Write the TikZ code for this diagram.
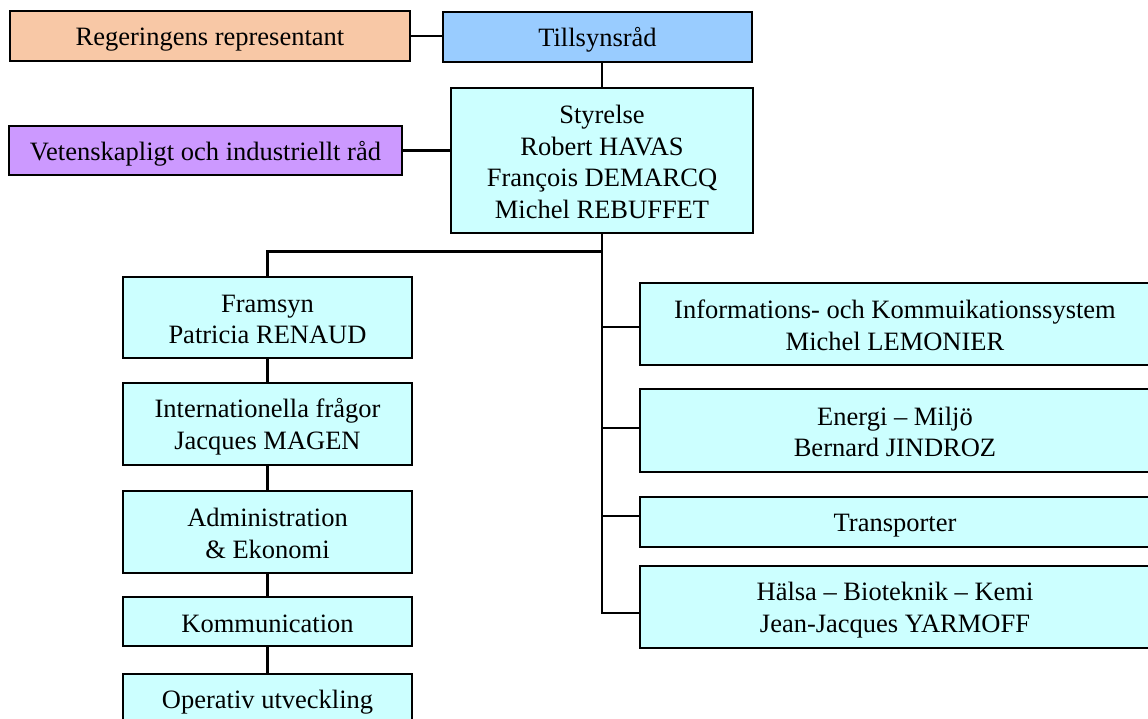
\documentclass[tikz,border=0pt]{standalone}
\usepackage{fontspec}
\setmainfont{Liberation Serif}
\definecolor{peach}{HTML}{F8C8A6}
\definecolor{skyb}{HTML}{99CCFF}
\definecolor{lcyan}{HTML}{CCFFFF}
\definecolor{lilac}{HTML}{CC99FF}
\newcommand{\topstr}{\rule{0pt}{25pt}}
\newcommand{\botstr}{\rule[-4pt]{0pt}{4pt}}
\tikzset{
  box/.style={draw=black, line width=2pt, inner sep=0pt, outer sep=0pt, align=center,
    font=\fontsize{26.5}{31.5}\selectfont},
  conn/.style={draw=black, line width=2.2pt},
}
\begin{document}
\begin{tikzpicture}[x=1pt,y=-1pt]
\useasboundingbox (0,0) rectangle (1148,719);
\fill[white] (0,0) rectangle (1148,719);
\clip (0,0) rectangle (1148,719);

\coordinate (j) at (602,251.5);
\coordinate (b1) at (602,327);
\coordinate (b2) at (602,428);
\coordinate (b3) at (602,516);
\coordinate (b4) at (602,613);

\node[box, fill=peach, minimum width=400pt, minimum height=50pt] (reg) at (210,36) {\topstr Regeringens representant\botstr};
\node[box, fill=skyb, minimum width=309pt, minimum height=50pt] (till) at (597.5,37) {\topstr Tillsynsråd\botstr};
\node[box, fill=lilac, minimum width=393pt, minimum height=49pt] (vet) at (205.5,150.5) {\topstr Vetenskapligt och industriellt råd\botstr};
\node[box, fill=lcyan, minimum width=302pt, minimum height=145pt] (sty) at (602,160.5) {\topstr Styrelse\\Robert HAVAS\\François DEMARCQ\\Michel REBUFFET\botstr};

\node[box, fill=lcyan, minimum width=289pt, minimum height=81pt] (fram) at (267.5,317.5) {\topstr Framsyn\\Patricia RENAUD\botstr};
\node[box, fill=lcyan, minimum width=289pt, minimum height=82pt] (intl) at (267.5,424) {\topstr Internationella frågor\\Jacques MAGEN\botstr};
\node[box, fill=lcyan, minimum width=289pt, minimum height=82pt] (adm) at (267.5,532) {\topstr Administration\\\& Ekonomi\botstr};
\node[box, fill=lcyan, minimum width=289pt, minimum height=49pt] (kom) at (267.5,621.5) {\topstr Kommunication\botstr};
\node[box, fill=lcyan, minimum width=289pt, minimum height=50pt] (op) at (267.5,699) {\topstr Operativ utveckling\botstr};

\node[box, fill=lcyan, minimum width=510pt, minimum height=82pt] (info) at (895,324) {\topstr Informations- och Kommuikationssystem\\Michel LEMONIER\botstr};
\node[box, fill=lcyan, minimum width=510pt, minimum height=83pt] (ener) at (895,430.5) {\topstr Energi – Miljö\\Bernard JINDROZ\botstr};
\node[box, fill=lcyan, minimum width=510pt, minimum height=50pt] (trans) at (895,522) {\topstr Transporter\botstr};
\node[box, fill=lcyan, minimum width=510pt, minimum height=82pt] (hals) at (895,607) {\topstr Hälsa – Bioteknik – Kemi\\Jean-Jacques YARMOFF\botstr};

\draw[conn] (reg.east) -- (till.west |- reg.east);
\draw[conn] (sty.north) -- (sty.north |- till.south);
\draw[conn] (vet.east) -- (vet.east -| sty.west);
\draw[conn] (sty.south) -- (b4) -- (b4 -| hals.west);
\draw[conn] (b1) -- (b1 -| info.west);
\draw[conn] (b2) -- (b2 -| ener.west);
\draw[conn] (b3) -- (b3 -| trans.west);
\draw[conn] (j) -- (j -| fram.north) -- (fram.north);
\draw[conn] (fram.south) -- (intl.north);
\draw[conn] (intl.south) -- (adm.north);
\draw[conn] (adm.south) -- (kom.north);
\draw[conn] (kom.south) -- (op.north);
\end{tikzpicture}
\end{document}
